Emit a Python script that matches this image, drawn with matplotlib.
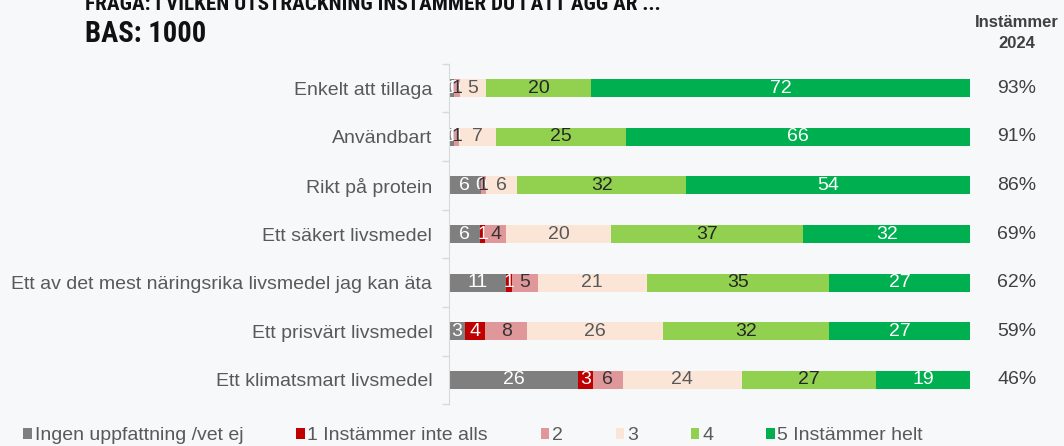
import matplotlib
matplotlib.use("Agg")
import matplotlib.pyplot as plt
import numpy as np
from matplotlib.patches import Patch
from matplotlib.transforms import blended_transform_factory
from matplotlib import font_manager

categories = ["Enkelt att tillaga", "Användbart", "Rikt på protein", "Ett säkert livsmedel",
              "Ett av det mest näringsrika livsmedel jag kan äta", "Ett prisvärt livsmedel",
              "Ett klimatsmart livsmedel"]
series_names = ["Ingen uppfattning /vet ej", "1 Instämmer inte alls", "2", "3", "4", "5 Instämmer helt"]
ingen = [1, 1, 6, 6, 11, 3, 26]
s1 = [0, 0, 0, 1, 1, 4, 3]
s2 = [1, 1, 1, 4, 5, 8, 6]
s3 = [5, 7, 6, 20, 21, 26, 24]
s4 = [20, 25, 32, 37, 35, 32, 27]
s5 = [72, 66, 54, 32, 27, 27, 19]
instammer_2024 = ["93%", "91%", "86%", "69%", "62%", "59%", "46%"]

colors = ["#7F7F7F", "#C00000", "#E0979A", "#FBE5D6", "#92D050", "#00B050"]
label_colors = ["white", "white", "#333333", "#595959", "#262626", "white"]
bg = "#F7F8FA"

plt.rcParams['font.family'] = ['Liberation Sans', 'DejaVu Sans']

# pick a condensed family for the headline if one is installed
installed = {f.name for f in font_manager.fontManager.ttflist}
title_family = 'Liberation Sans'
title_size = 17.5
for cand in ['Liberation Sans Narrow', 'Roboto Condensed', 'Open Sans Condensed', 'DejaVu Sans Condensed']:
    if cand in installed:
        title_family = cand
        title_size = 20
        break

fig = plt.figure(figsize=(10.64, 4.46), dpi=100, facecolor=bg)
ax = fig.add_axes([449/1064, 1-404.3/446, (970-449)/1064, (404.3-63.7)/446])
ax.set_facecolor(bg)

data = np.array([ingen, s1, s2, s3, s4, s5], dtype=float)
totals = data.sum(axis=0)
norm = data / totals * 100
y = np.arange(len(categories))
left = np.zeros(len(categories))
for i in range(len(series_names)):
    ax.barh(y, norm[i], left=left, height=0.37, color=colors[i], label=series_names[i])
    for j in range(len(categories)):
        ax.text(left[j] + norm[i][j] / 2, y[j], f"{int(data[i][j])}", ha="center", va="center",
                fontsize=14, color=label_colors[i])
    left += norm[i]

ax.set_xlim(0, 100)
ax.set_ylim(len(categories) - 0.5, -0.5)
ax.set_yticks(y)
ax.set_yticklabels(categories, fontsize=14, color="#595959")
ax.tick_params(axis="y", which="major", length=0, pad=12)
ax.set_yticks(np.arange(-0.5, len(categories), 1.0), minor=True)
ax.tick_params(axis="y", which="minor", length=5, color="#D9D9D9", width=1)
ax.set_xticks([])
for s in ["top", "right", "bottom"]:
    ax.spines[s].set_visible(False)
ax.spines["left"].set_color("#D9D9D9")

tr = blended_transform_factory(fig.transFigure, ax.transData)
for j, v in enumerate(instammer_2024):
    ax.text(1017/1064, y[j], v, transform=tr, ha="center", va="center", fontsize=14, color="#404040")

fig.text(1017/1064, 1-33/446, "Instämmer\n2024", ha="center", va="center", fontsize=12,
         fontweight="bold", color="#404040", linespacing=1.45)

fig.text(85/1064, 1-10/446, "FRÅGA: I VILKEN UTSTRÄCKNING INSTÄMMER DU I ATT ÄGG ÄR ...",
         ha="left", va="baseline", fontsize=title_size * 0.76, fontweight="bold", family=title_family,
         color="#111111")
fig.text(85/1064, 1-42/446, "BAS: 1000", ha="left", va="baseline", fontsize=title_size * 1.03,
         fontweight="bold", family=title_family, color="#111111")

handles = [Patch(facecolor=c, edgecolor="none") for c in colors]
fig.legend(handles, series_names, loc="center left", bbox_to_anchor=(23/1064, 1-436/446),
           ncol=6, frameon=False, fontsize=14, handlelength=0.45, handleheight=0.45,
           handletextpad=0.15, columnspacing=2.7, labelcolor="#595959", borderaxespad=0,
           borderpad=0)

fig.savefig("out.png", dpi=100, facecolor=bg)
